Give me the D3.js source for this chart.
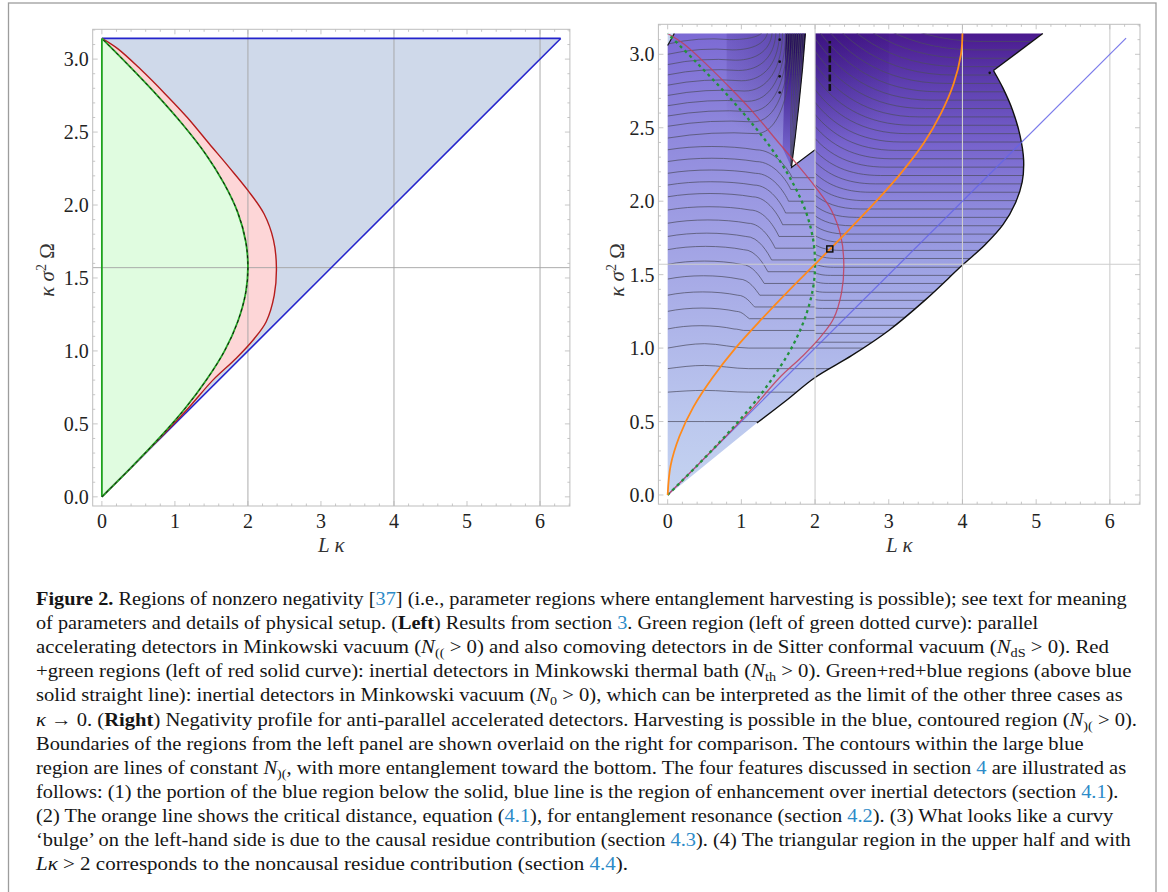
<!DOCTYPE html>
<html><head><meta charset="utf-8">
<script src="https://cdn.jsdelivr.net/npm/d3@7"></script>
<style>body{margin:0;background:#fff}svg{display:block}text{white-space:pre}</style>
</head><body>
<svg id="c" width="1168" height="892"></svg>
<script>
const PI = Math.PI;
// ---------- axes ----------
const xTicks = [0,1,2,3,4,5,6];
const yTicks = [0,0.5,1,1.5,2,2.5,3];
const yTickLabels = ["0.0","0.5","1.0","1.5","2.0","2.5","3.0"];
const gridXs = [2,4,6];
const gridYs = [1.5708];
const xDomain = [-0.1257, 6.409];
const yDomain = [-0.0628, 3.2044];
// ---------- left panel curves (x = Lκ, y = κσ²Ω) ----------
const greenCurve = [[0,0],[0.40,0.2],[0.78,0.4],[1.13,0.6],[1.43,0.8],[1.68,1.0],[1.86,1.2],[1.97,1.4],[2.0,1.571],[1.97,1.75],[1.86,1.95],[1.67,2.15],[1.42,2.35],[1.11,2.55],[0.76,2.75],[0.38,2.95],[0,3.1416]];
const redCurve = [[0,0],[0.40,0.2],[0.79,0.4],[1.17,0.6],[1.52,0.8],[1.84,0.95],[2.08,1.08],[2.25,1.2],[2.36,1.38],[2.39,1.571],[2.35,1.76],[2.22,1.94],[2.0,2.1],[1.74,2.26],[1.47,2.42],[1.17,2.6],[0.87,2.76],[0.53,2.93],[0.22,3.07],[0,3.1416]];
const blueTriangle = [[0,0],[6.283,3.1416],[0,3.1416]];
const blueDiagonal = [[0,0],[6.283,3.1416]];
const blueTop = [[0,3.1416],[6.283,3.1416]];
const greenAxis = [[0,0],[0,3.1416]];
// ---------- right panel ----------
const orangeCurve = [[0,0],[0.04,0.2],[0.16,0.4],[0.35,0.6],[0.61,0.8],[0.92,1.0],[1.28,1.2],[1.66,1.4],[2.0,1.571],[2.45,1.8],[2.83,2.0],[3.18,2.2],[3.48,2.4],[3.71,2.6],[3.88,2.8],[3.98,3.0],[4.0,3.1416]];
const blueDiagonalR = [[0,0],[6.22,3.11]];
const regionTop = [[0,0],[0,3.06],[0.09,3.1416],[1.87,3.1416],[1.83,2.9],[1.78,2.65],[1.73,2.43],[1.68,2.23],[2.0,2.35],[2.0,3.1416],[5.09,3.1416]];
const blackBoundary = [[4.42,2.89],[4.55,2.77],[4.68,2.62],[4.78,2.45],[4.83,2.28],[4.81,2.13],[4.72,1.99],[4.55,1.84],[4.30,1.70],[4.0,1.565],[3.5,1.33],[3.0,1.12],[2.5,0.95],[2.0,0.80],[1.6,0.64],[1.21,0.49]];
const regionBottom = [[0.06,0.02]];
const wedgeEdge = [[1.87,3.1416],[1.83,2.9],[1.78,2.65],[1.73,2.43],[1.68,2.23],[2.0,2.35]];
const cornerNotch = [[0,3.06],[0,3.1416],[0.09,3.1416]];
const fanPolygon = [[1.60,3.1416],[1.87,3.1416],[1.83,2.9],[1.78,2.65],[1.73,2.43],[1.68,2.23],[1.56,2.36],[1.58,2.7]];
// contour levels, left part (x<2)
const leftFlatLevels = [0.50,0.70,0.86,1.00];
const leftFlatHump   = [0.0,0.012,0.022,0.03];
const dropYL = [1.13,1.25,1.36,1.47,1.57,1.67,1.76,1.85,1.94,2.03,2.11,2.19,2.27,2.35];
const dropYR = [1.12,1.20,1.28,1.36,1.44,1.52,1.60,1.68,1.76,1.84,1.92,2.00,2.08,2.16];
const dropXB = [1.00,1.08,1.15,1.22,1.28,1.33,1.38,1.43,1.48,1.53,1.57,1.61,1.64,1.66];
const dropW  = [0.10,0.15,0.20,0.25,0.28,0.30,0.32,0.34,0.36,0.38,0.40,0.42,0.44,0.46];
const riseYL = [2.43,2.51,2.58,2.65,2.72,2.79,2.86,2.93,3.00,3.07];
const riseXS = [1.20,1.16,1.12,1.08,1.04,1.00,0.96,0.92,0.88,0.84];
const riseXT = [1.69,1.66,1.63,1.60,1.56,1.52,1.47,1.42,1.36,1.30];
const fanTopX = [1.72,1.75,1.78,1.805,1.83,1.85];
// contour levels, right part (x>2)
const rightYF   = [1.04,1.10,1.155,1.21,1.27,1.325,1.38,1.44,1.495,1.55,1.61,1.665,1.72,1.776,1.833,1.89,1.947,2.004,2.061,2.118,2.175,2.232,2.289,2.346,2.403,2.46,2.517,2.574,2.631,2.688,2.745,2.802,2.859,2.916,2.973,3.03,3.087];
const rightRise = [0,0,0,0,0.003,0.006,0.01,0.014,0.018,0.024,0.03,0.038,0.046,0.056,0.068,0.08,0.095,0.11,0.13,0.15,0.17,0.195,0.22,0.245,0.27,0.30,0.33,0.36,0.39,0.42,0.45,0.48,0.51,0.54,0.57,0.60,0.63];
const rightXS   = [2,2,2,2,2.1,2.12,2.15,2.18,2.21,2.25,2.3,2.35,2.4,2.45,2.5,2.56,2.62,2.68,2.75,2.82,2.89,2.96,3.03,3.1,3.17,3.25,3.33,3.41,3.5,3.59,3.68,3.78,3.88,3.98,4.08,4.18,4.28];
// markers
const dotMarks = [[1.52,3.10],[1.52,2.95],[1.52,2.85],[1.52,2.74],[4.37,2.874]];
const dashedMark = [[2.2,2.75],[2.2,3.09]];
const squareMark = [2.2,1.675];
// colours of contour bands
const leftStops  = [[0,"#c4d3f0"],[0.5,"#bcc8ee"],[1.0,"#b1b9ea"],[1.5,"#a6a9e6"],[2.0,"#9b99e2"],[2.5,"#8e87dc"],[3.1416,"#7c6ad4"]];
const rightStops = [[0,"#c0cdef"],[0.8,"#b3bdeb"],[1.2,"#a9afe8"],[1.6,"#9ca0e3"],[2.0,"#8c86db"],[2.4,"#7662cc"],[2.8,"#5e3fb0"],[3.1416,"#4a1a8e"]];
// caption
const captionLines = [
 [["b","Figure 2."],["t"," Regions of nonzero negativity ["],["a","37"],["t","] (i.e., parameter regions where entanglement harvesting is possible); see text for meaning"]],
 [["t","of parameters and details of physical setup. ("],["b","Left"],["t",") Results from section "],["a","3"],["t",". Green region (left of green dotted curve): parallel"]],
 [["t","accelerating detectors in Minkowski vacuum ("],["i","N"],["s","(("],["t"," > 0) and also comoving detectors in de Sitter conformal vacuum ("],["i","N"],["s","dS"],["t"," > 0). Red"]],
 [["t","+green regions (left of red solid curve): inertial detectors in Minkowski thermal bath ("],["i","N"],["s","th"],["t"," > 0). Green+red+blue regions (above blue"]],
 [["t","solid straight line): inertial detectors in Minkowski vacuum ("],["i","N"],["s","0"],["t"," > 0), which can be interpreted as the limit of the other three cases as"]],
 [["i","κ"],["t"," → 0. ("],["b","Right"],["t",") Negativity profile for anti-parallel accelerated detectors. Harvesting is possible in the blue, contoured region ("],["i","N"],["s",")("],["t"," > 0)."]],
 [["t","Boundaries of the regions from the left panel are shown overlaid on the right for comparison. The contours within the large blue"]],
 [["t","region are lines of constant "],["i","N"],["s",")("],["t",", with more entanglement toward the bottom. The four features discussed in section "],["a","4"],["t"," are illustrated as"]],
 [["t","follows: (1) the portion of the blue region below the solid, blue line is the region of enhancement over inertial detectors (section "],["a","4.1"],["t",")."]],
 [["t","(2) The orange line shows the critical distance, equation ("],["a","4.1"],["t","), for entanglement resonance (section "],["a","4.2"],["t","). (3) What looks like a curvy"]],
 [["t","‘bulge’ on the left-hand side is due to the causal residue contribution (section "],["a","4.3"],["t","). (4) The triangular region in the upper half and with"]],
 [["i","Lκ"],["t"," > 2 corresponds to the noncausal residue contribution (section "],["a","4.4"],["t",")."]]
];
const captionEnds = [1127.5,1038.7,1110.7,1131.7,1122.9,1138.2,1083.9,1127.5,1119.1,1114.5,1132.5,629.2];

// ================= drawing =================
const svg = d3.select("#c");
const defs = svg.append("defs");
const SERIF = "'Liberation Serif','Times New Roman',serif";

svg.append("rect").attr("x",8.5).attr("y",3).attr("width",1147.5).attr("height",920)
  .attr("fill","none").attr("stroke","#9d9d9d").attr("stroke-width",1.3);

function panel(fr){
  return {x:d3.scaleLinear().domain(xDomain).range([fr.x0,fr.x1]),
          y:d3.scaleLinear().domain(yDomain).range([fr.y1,fr.y0])};
}
const PL = panel({x0:92.7,x1:569.9,y0:29.3,y1:506});
const PR = panel({x0:658.4,x1:1140,y0:24.3,y1:504.2});
const lg = (s,c)=>d3.line().x(d=>s.x(d[0])).y(d=>s.y(d[1])).curve(c||d3.curveLinear);

function frameClip(id,s){
  const [a,b]=s.x.range(), [c,d]=s.y.range();
  defs.append("clipPath").attr("id",id).append("rect").attr("x",a).attr("y",d).attr("width",b-a).attr("height",c-d);
}
frameClip("clipL",PL); frameClip("clipR",PR);

function grid(g,s,col,w){
  const [y0,y1]=s.y.range(), [x0,x1]=s.x.range();
  g.selectAll(null).data(gridXs).join("line").attr("x1",d=>s.x(d)).attr("x2",d=>s.x(d))
    .attr("y1",y0).attr("y2",y1).attr("stroke",col).attr("stroke-width",w);
  g.selectAll(null).data(gridYs).join("line").attr("y1",d=>s.y(d)).attr("y2",d=>s.y(d))
    .attr("x1",x0).attr("x2",x1).attr("stroke",col).attr("stroke-width",w);
}

function frame(s, yTitleX){
  const g = svg.append("g");
  const [x0,x1]=s.x.range(), [yb,yt]=s.y.range();
  const minorX = d3.range(0,33).map(i=>i*0.2), minorY = d3.range(0,33).map(i=>i*0.1);
  const tk = g.append("g").attr("stroke","#b9b9b9").attr("stroke-width",0.8);
  minorX.forEach(v=>{const X=s.x(v), L=(Math.abs(v-Math.round(v))<1e-6)?5:2.5;
    tk.append("line").attr("x1",X).attr("x2",X).attr("y1",yb).attr("y2",yb-L);
    tk.append("line").attr("x1",X).attr("x2",X).attr("y1",yt).attr("y2",yt+L);});
  minorY.filter(v=>v<=3.2).forEach(v=>{const Y=s.y(v), L=(Math.abs(v*2-Math.round(v*2))<1e-6)?5:2.5;
    tk.append("line").attr("y1",Y).attr("y2",Y).attr("x1",x0).attr("x2",x0+L);
    tk.append("line").attr("y1",Y).attr("y2",Y).attr("x1",x1).attr("x2",x1-L);});
  g.append("rect").attr("x",x0).attr("y",yt).attr("width",x1-x0).attr("height",yb-yt)
    .attr("fill","none").attr("stroke","#bdbdbd").attr("stroke-width",1);
  const lab = g.append("g").attr("font-family",SERIF).attr("font-size",20).attr("fill","#222");
  lab.selectAll(null).data(xTicks).join("text").attr("x",d=>s.x(d)).attr("y",528)
    .attr("text-anchor","middle").text(d=>d);
  lab.selectAll(null).data(yTicks).join("text").attr("x",x0-4).attr("y",d=>s.y(d)+7)
    .attr("text-anchor","end").text((d,i)=>yTickLabels[i]);
  const xt = g.append("text").attr("x",(x0+x1)/2).attr("y",552).attr("text-anchor","middle")
    .attr("font-family",SERIF).attr("font-size",21).attr("fill","#333").attr("font-style","italic");
  xt.text("L κ");
  const yt2 = g.append("text").attr("transform",`translate(${yTitleX},270) rotate(-90)`)
    .attr("text-anchor","middle").attr("font-family",SERIF).attr("font-size",21).attr("fill","#333");
  yt2.append("tspan").attr("font-style","italic").text("κ σ");
  yt2.append("tspan").attr("font-size",14).attr("dy",-8).text("2");
  yt2.append("tspan").attr("dy",8).text(" Ω");
}

// ---------------- LEFT PANEL ----------------
{
  const s = PL;
  const g = svg.append("g").attr("clip-path","url(#clipL)");
  g.append("path").attr("d",lg(s)(blueTriangle)+"Z").attr("fill","#cfd9ea");
  g.append("path").attr("d",lg(s,d3.curveCatmullRom)(redCurve)+"Z").attr("fill","#fdd6d7");
  g.append("path").attr("d",lg(s,d3.curveCatmullRom)(greenCurve)+"Z").attr("fill","#e0fce0");
  grid(g,s,"#a3a3a3",0.9);
  g.append("path").attr("d",lg(s)(blueDiagonal)).attr("stroke","#2424cc").attr("stroke-width",1.5).attr("fill","none");
  g.append("path").attr("d",lg(s)(blueTop)).attr("stroke","#2424cc").attr("stroke-width",1.8).attr("fill","none");
  g.append("path").attr("d",lg(s,d3.curveCatmullRom)(redCurve)).attr("stroke","#b51c1c").attr("stroke-width",1.4).attr("fill","none");
  g.append("path").attr("d",lg(s)(greenAxis)).attr("stroke","#1ea21e").attr("stroke-width",1.8).attr("fill","none");
  g.append("path").attr("d",lg(s,d3.curveCatmullRom)(greenCurve)).attr("stroke","#26a326").attr("stroke-width",1.8).attr("fill","none");
  g.append("path").attr("d",lg(s,d3.curveCatmullRom)(greenCurve)).attr("stroke","#111").attr("stroke-width",1).attr("stroke-dasharray","3,3").attr("fill","none");
  frame(s,54);
}

// ---------------- RIGHT PANEL ----------------
{
  const s = PR;
  function vGrad(id,stops){
    const gr = defs.append("linearGradient").attr("id",id).attr("gradientUnits","userSpaceOnUse")
      .attr("x1",0).attr("x2",0).attr("y1",s.y(0)).attr("y2",s.y(PI));
    stops.forEach(([v,c])=>gr.append("stop").attr("offset",v/PI).attr("stop-color",c));
  }
  vGrad("gLeft",leftStops); vGrad("gRight",rightStops);
  const fg = defs.append("linearGradient").attr("id","gFan").attr("gradientUnits","userSpaceOnUse")
    .attr("x1",s.x(1.55)).attr("y1",s.y(2.35)).attr("x2",s.x(1.86)).attr("y2",s.y(3.05));
  fg.append("stop").attr("offset",0).attr("stop-color","#7464cc");
  fg.append("stop").attr("offset",0.6).attr("stop-color","#4a2c9a");
  fg.append("stop").attr("offset",1).attr("stop-color","#240a5c");
  const rg = defs.append("radialGradient").attr("id","gDark").attr("gradientUnits","userSpaceOnUse")
    .attr("cx",s.x(1.85)).attr("cy",s.y(PI)).attr("r",115);
  rg.append("stop").attr("offset",0).attr("stop-color","#2a0a70").attr("stop-opacity",0.45);
  rg.append("stop").attr("offset",1).attr("stop-color","#2a0a70").attr("stop-opacity",0);

  const regionD = lg(s)(regionTop.concat([[5.09,3.1416]])) + lg(s,d3.curveCatmullRom)(blackBoundary).replace(/^M/,"L") + lg(s)(regionBottom).replace(/^M/,"L") + "Z";
  defs.append("clipPath").attr("id","clipRegion").append("path").attr("d",regionD);

  const gAll = svg.append("g").attr("clip-path","url(#clipR)");
  const g = gAll.append("g").attr("clip-path","url(#clipRegion)");
  g.append("rect").attr("x",s.x(-0.2)).attr("y",s.y(3.3)).attr("width",s.x(2)-s.x(-0.2)).attr("height",s.y(-0.1)-s.y(3.3)).attr("fill","url(#gLeft)");
  g.append("rect").attr("x",s.x(2)).attr("y",s.y(3.3)).attr("width",s.x(6.5)-s.x(2)).attr("height",s.y(-0.1)-s.y(3.3)).attr("fill","url(#gRight)");
  g.append("rect").attr("x",s.x(0.8)).attr("y",s.y(3.3)).attr("width",s.x(3)-s.x(0.8)).attr("height",s.y(1.8)-s.y(3.3)).attr("fill","url(#gDark)");
  g.append("path").attr("d",lg(s)(fanPolygon)+"Z").attr("fill","url(#gFan)");

  const cg = g.append("g").attr("fill","none").attr("stroke","#4c4c60").attr("stroke-width",0.9).attr("stroke-opacity",0.8);
  const mono = d3.line().x(d=>s.x(d[0])).y(d=>s.y(d[1])).curve(d3.curveMonotoneX);
  leftFlatLevels.forEach((v,i)=>{
    const h = leftFlatHump[i];
    cg.append("path").attr("d",mono([[0,v],[0.5,v+h],[1.1,v],[7,v]]));
  });
  dropYL.forEach((yl,i)=>{
    const yr=dropYR[i], xb=dropXB[i], w=dropW[i], d=yl-yr, h=0.03;
    const p=d3.path();
    p.moveTo(s.x(0),s.y(yl));
    p.bezierCurveTo(s.x((xb-w)*0.3),s.y(yl+h),s.x((xb-w)*0.7),s.y(yl+h),s.x(xb-w),s.y(yl));
    if(d>0.005) p.bezierCurveTo(s.x(xb-0.45*w),s.y(yl),s.x(xb-0.02),s.y(yr+0.3*d),s.x(xb+0.03),s.y(yr));
    p.lineTo(s.x(2),s.y(yr));
    cg.append("path").attr("d",p.toString());
  });
  riseYL.forEach((yl,i)=>{
    const xs=riseXS[i], xt=riseXT[i], p=d3.path();
    p.moveTo(s.x(0),s.y(yl));
    p.quadraticCurveTo(s.x(xs*0.5),s.y(yl+0.05),s.x(xs),s.y(yl+0.03));
    p.bezierCurveTo(s.x(xs+0.6*(xt-xs)),s.y(yl+0.03),s.x(xt),s.y(yl+0.03+0.35*(PI-yl)),s.x(xt),s.y(PI+0.03));
    cg.append("path").attr("d",p.toString());
  });
  fanTopX.forEach(xt=>{
    const p=d3.path();
    p.moveTo(s.x(xt),s.y(PI+0.03));
    p.quadraticCurveTo(s.x(xt-0.07),s.y(2.5),s.x(1.675),s.y(2.24));
    cg.append("path").attr("d",p.toString());
  });
  rightYF.forEach((yf,i)=>{
    const rise=rightRise[i], xs=rightXS[i], yt=yf+rise, p=d3.path();
    p.moveTo(s.x(2),s.y(yt));
    if(rise>0.001) p.bezierCurveTo(s.x(2+0.2*(xs-2)),s.y(yf+0.45*rise),s.x(2+0.5*(xs-2)),s.y(yf),s.x(xs),s.y(yf));
    p.lineTo(s.x(7),s.y(yf));
    cg.append("path").attr("d",p.toString());
  });

  gAll.append("path").attr("d",lg(s)(cornerNotch)+"Z").attr("fill","#c5d2f0");
  gAll.append("path").attr("d",lg(s)([cornerNotch[0],cornerNotch[2]])).attr("stroke","#111").attr("stroke-width",1.2);
  gAll.append("path").attr("d",lg(s)(wedgeEdge)).attr("stroke","#111").attr("stroke-width",1.1).attr("fill","none");
  gAll.append("path").attr("d",lg(s)([[5.09,3.1416],blackBoundary[0]])).attr("stroke","#111").attr("stroke-width",1.3);
  gAll.append("path").attr("d",lg(s,d3.curveCatmullRom)(blackBoundary)).attr("stroke","#111").attr("stroke-width",1.4).attr("fill","none");

  grid(gAll,s,"#cdcdcd",1.1);

  gAll.append("path").attr("d",lg(s)(blueDiagonalR)).attr("stroke","#6464e6").attr("stroke-opacity",0.85).attr("stroke-width",1.2);
  gAll.append("path").attr("d",lg(s,d3.curveCatmullRom)(redCurve)).attr("stroke","#c2405a").attr("stroke-opacity",0.85).attr("stroke-width",1.3).attr("fill","none");
  gAll.append("path").attr("d",lg(s,d3.curveCatmullRom)(greenCurve)).attr("stroke","#23913c").attr("stroke-width",2.3).attr("stroke-dasharray","3,3.6").attr("fill","none");
  gAll.append("path").attr("d",lg(s,d3.curveCatmullRom)(orangeCurve)).attr("stroke","#ff8a1a").attr("stroke-width",1.8).attr("fill","none");

  gAll.selectAll(null).data(dotMarks).join("circle").attr("cx",d=>s.x(d[0])).attr("cy",d=>s.y(d[1])).attr("r",1.3).attr("fill","#111");
  gAll.append("path").attr("d",lg(s)(dashedMark)).attr("stroke","#111").attr("stroke-width",2.6).attr("stroke-dasharray","7,2.5");
  gAll.append("rect").attr("x",s.x(squareMark[0])-3).attr("y",s.y(squareMark[1])-3).attr("width",6).attr("height",6)
    .attr("fill","none").attr("stroke","#111").attr("stroke-width",1.5);
  frame(s,624);
}

// ---------------- CAPTION ----------------
{
  const x0 = 36, base0 = 605, step = 24.1;
  captionLines.forEach((segs,li)=>{
    const bl = base0 + li*step;
    const t = svg.append("text").attr("font-family",SERIF).attr("font-size",19).attr("fill","#151515")
      .attr("x",0).attr("y",0).attr("transform",`translate(${x0},${bl})`);
    let sub=false;
    segs.forEach(([k,str])=>{
      const ts = t.append("tspan").text(str);
      if(k==="b") ts.attr("font-weight","bold");
      if(k==="a") ts.attr("fill","#2d8bc8");
      if(k==="i") ts.attr("font-style","italic");
      if(k==="s"){ ts.attr("font-size",13).attr("dy",4); sub=true; }
      else if(sub){ ts.attr("dy",-4); sub=false; }
    });
    const w = t.node().getBBox().width;
    const k = (captionEnds[li]-x0)/w;
    if(k>0.7 && k<1.4) t.attr("transform",`translate(${x0},${bl}) scale(${k},1)`);
  });
}
</script>
</body></html>
